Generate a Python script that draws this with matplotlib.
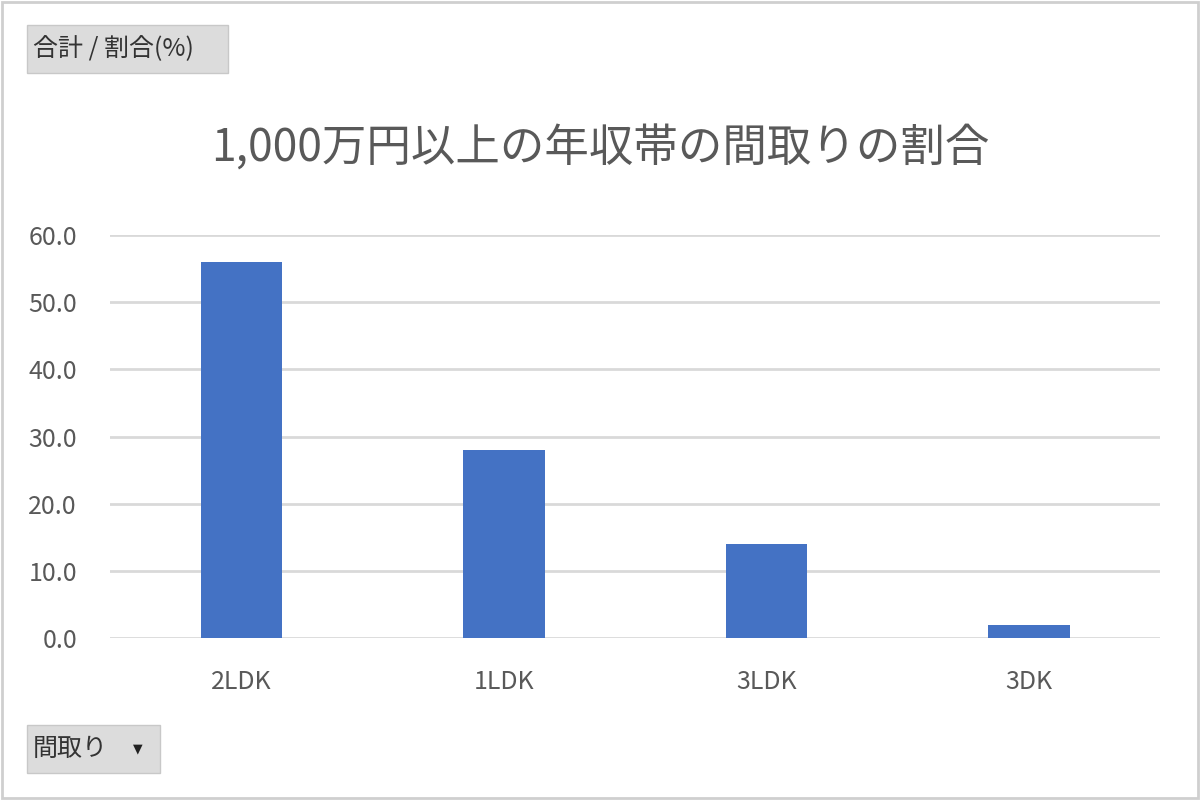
import matplotlib.pyplot as plt
from matplotlib.patches import Rectangle

plt.rcParams['font.family'] = ['Noto Sans CJK JP', 'DejaVu Sans']

layouts = ['2LDK', '1LDK', '3LDK', '3DK']
shares = [56.0, 28.0, 14.0, 2.0]
yticks = [0, 10, 20, 30, 40, 50, 60]

title = '1,000万円以上の年収帯の間取りの割合'
text_gray = '#595959'

fig = plt.figure(figsize=(12, 8), dpi=100)
ax = fig.add_axes([0.092, 0.2025, 0.875, 0.5035])

x = range(len(layouts))
ax.bar(x, shares, width=0.31, color='#4472c4', zorder=3)

ax.set_xlim(-0.5, len(layouts) - 0.5)
ax.set_ylim(0, 60)
ax.set_yticks(yticks)
ax.set_yticklabels([f'{v:.1f}' for v in yticks], fontsize=18, color=text_gray)
ax.set_xticks(list(x))
ax.set_xticklabels(layouts, fontsize=18, color=text_gray)
ax.tick_params(axis='y', length=0, pad=24)
ax.tick_params(axis='x', length=0, pad=22)
ax.grid(axis='y', color='#d9d9d9', linewidth=2, zorder=0)
ax.set_axisbelow(True)
for s in ax.spines.values():
    s.set_visible(False)

fig.text(0.5, 0.815, title, ha='center', va='center', fontsize=32, color=text_gray)

# pivot chart field buttons
for (x0, y0, w, h), label in [((27, 727, 201, 48), '合計 / 割合(%)'),
                              ((27, 27, 133, 48), '間取り')]:
    fig.patches.append(Rectangle((x0 / 1200, y0 / 800), w / 1200, h / 800,
                                 transform=fig.transFigure, facecolor='#dcdcdc',
                                 edgecolor='#c8c8c8', linewidth=1))
    fig.text((x0 + 6) / 1200, (y0 + h / 2) / 800, label, ha='left', va='center',
             fontsize=18, color='#333333')
fig.text(138 / 1200, 51 / 800, '▼', ha='center', va='center', fontsize=9,
         color='#222222', family=['DejaVu Sans'])

# outer frame
fig.patches.append(Rectangle((0.002, 0.002), 0.996, 0.996, transform=fig.transFigure,
                             fill=False, edgecolor='#cfcfcf', linewidth=2))

fig.savefig('out.png', dpi=100, facecolor='white')
